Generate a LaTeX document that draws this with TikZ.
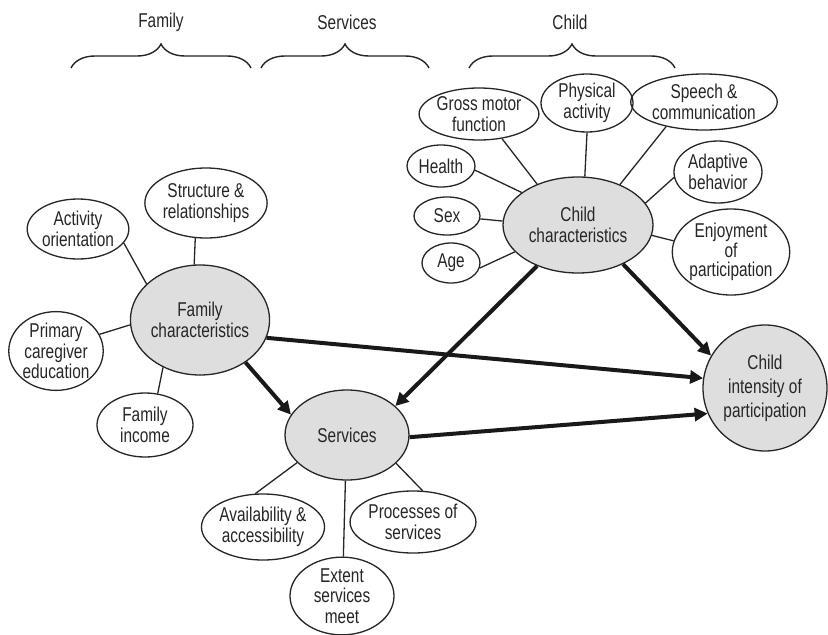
\documentclass[tikz,border=0pt]{standalone}
\usepackage{fontspec}
\setmainfont{Liberation Sans}[FakeStretch=0.77]
\usetikzlibrary{shapes.geometric,arrows.meta,decorations.pathreplacing}
\begin{document}
\begin{tikzpicture}[x=1pt,y=-1pt,
  every node/.style={font=\fontsize{20}{20.5}\selectfont, align=center, text=black!85},
  bub/.style={draw=black!85, ellipse, line width=1.3pt, inner sep=0pt},
  hub/.style={bub, fill=black!13},
  lnk/.style={line width=1.3pt, draw=black!85},
  arr/.style={line width=4pt, draw=black!90, -{Triangle[length=13pt,width=13pt]}},
  brc/.style={decorate, decoration={brace, amplitude=24pt, aspect=0.5}, line width=1.4pt, draw=black!85}]
\useasboundingbox (0,0) rectangle (828,635);
\fill[white] (0,0) rectangle (828,635);
\clip (0,0) rectangle (828,635);

% group labels and braces
\node (lfam) at (161,22) {Family};
\node (lser) at (347,22) {Services};
\node (lchi) at (570,22) {Child};
\coordinate (bf1) at (71,68);  \coordinate (bf2) at (251,68);
\coordinate (bs1) at (261,68); \coordinate (bs2) at (429,68);
\coordinate (bc1) at (469,68); \coordinate (bc2) at (675,68);
\draw[brc] (bf1) -- (bf2);
\draw[brc] (bs1) -- (bs2);
\draw[brc] (bc1) -- (bc2);

% hubs
\node[hub, minimum width=134pt, minimum height=110pt] (fam) at (200,320) {Family\\characteristics};
\node[hub, minimum width=150pt, minimum height=96pt] (chi) at (578,225) {Child\\characteristics};
\node[hub, minimum width=124pt, minimum height=90pt] (ser) at (347,435) {Services};
\node[hub, minimum width=124pt, minimum height=126pt, font=\fontsize{20}{24}\selectfont] (int) at (765,388) {Child\\intensity of\\participation};

% family satellites
\node[bub, minimum width=96pt, minimum height=60pt] (act) at (78,229) {Activity\\orientation};
\node[bub, minimum width=116pt, minimum height=70pt] (str) at (206,203) {Structure \&\\relationships};
\node[bub, minimum width=94pt, minimum height=78pt] (pri) at (56,351) {Primary\\caregiver\\education};
\node[bub, minimum width=96pt, minimum height=64pt] (inc) at (145,425) {Family\\income};

% child satellites
\node[bub, minimum width=114pt, minimum height=52pt] (gmf) at (479,114) {Gross motor\\function};
\node[bub, minimum width=92pt, minimum height=58pt] (phy) at (587,103) {Physical\\activity};
\node[bub, minimum width=134pt, minimum height=56pt] (spe) at (704,102) {Speech \&\\communication};
\node[bub, minimum width=68pt, minimum height=42pt] (hea) at (441,166) {Health};
\node[bub, minimum width=66pt, minimum height=38pt] (sex) at (447,216) {Sex};
\node[bub, minimum width=58pt, minimum height=40pt] (age) at (451,263) {Age};
\node[bub, minimum width=88pt, minimum height=62pt] (ada) at (718,172) {Adaptive\\behavior};
\node[bub, minimum width=112pt, minimum height=86pt, font=\fontsize{20}{19.5}\selectfont] (enj) at (731,252) {Enjoyment\\of\\participation};

% services satellites
\node[bub, minimum width=116pt, minimum height=66pt] (ava) at (263,527) {Availability \&\\accessibility};
\node[bub, minimum width=114pt, minimum height=62pt] (pro) at (413,522) {Processes of\\services};
\node[bub, minimum width=104pt, minimum height=74pt] (ext) at (342,596) {Extent\\services\\meet};

% thin links
\draw[lnk] (act.343) -- (fam.146);
\draw[lnk] (str.253) -- (fam.96);
\draw[lnk] (pri.21) -- (fam.184);
\draw[lnk] (inc.68) -- (fam.232);

\draw[lnk] (gmf.313) -- (chi.135);
\draw[lnk] (phy.270) -- (chi.82);
\draw[lnk] (spe.213) -- (chi.44);
\draw[lnk] (hea.353) -- (chi.150);
\draw[lnk] (sex.355) -- (chi.177);
\draw[lnk] (age.350) -- (chi.203);
\draw[lnk] (ada.187) -- (chi.18);
\draw[lnk] (enj.169) -- (chi.352);

\draw[lnk] (ava.103) -- (ser.209);
\draw[lnk] (ext.88) -- (ser.268);
\draw[lnk] (pro.73) -- (ser.330);

% thick arrows
\draw[arr] (fam.345) -- (int.171);
\draw[arr] (fam.317) -- (ser.160);
\draw[arr] (chi.225) -- (ser.31);
\draw[arr] (chi.319) -- (int.149);
\draw[arr] (ser.358) -- (int.204);
\end{tikzpicture}
\end{document}
